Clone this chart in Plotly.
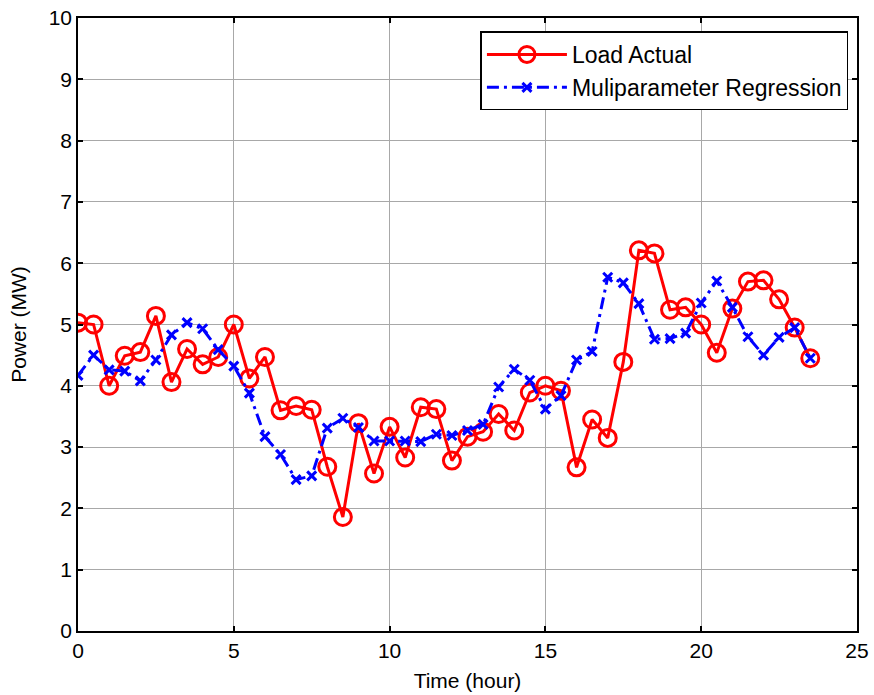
import plotly.graph_objects as go

time_hours = [i * 0.5 for i in range(48)]

load_actual = [5.03, 5.00, 4.00, 4.49, 4.55, 5.14, 4.06, 4.60, 4.35, 4.47,
               5.00, 4.12, 4.47, 3.60, 3.67, 3.61, 2.68, 1.86, 3.39, 2.57,
               3.33, 2.83, 3.65, 3.62, 2.78, 3.17, 3.25, 3.54, 3.27, 3.89,
               4.00, 3.92, 2.67, 3.45, 3.15, 4.39, 6.21, 6.16, 5.24, 5.28,
               5.00, 4.54, 5.26, 5.70, 5.72, 5.41, 4.95, 4.45]

regression = [4.17, 4.50, 4.26, 4.24, 4.08, 4.42, 4.83, 5.03, 4.93, 4.59,
              4.32, 3.88, 3.17, 2.88, 2.47, 2.53, 3.31, 3.47, 3.32, 3.10,
              3.10, 3.10, 3.09, 3.21, 3.19, 3.27, 3.37, 3.98, 4.27, 4.09,
              3.62, 3.84, 4.42, 4.56, 5.77, 5.68, 5.34, 4.76, 4.77, 4.86,
              5.35, 5.71, 5.28, 4.80, 4.50, 4.79, 4.95, 4.45]

x_ticks = [0, 5, 10, 15, 20, 25]
y_ticks = list(range(0, 11))

FONT = "Liberation Sans, Arial, sans-serif"

fig = go.Figure()
fig.add_trace(go.Scatter(
    x=time_hours, y=load_actual, name="Load Actual",
    mode="lines+markers",
    line=dict(color="#ff0000", width=3),
    marker=dict(symbol="circle-open", size=17, color="#ff0000",
                line=dict(color="#ff0000", width=3)),
))
fig.add_trace(go.Scatter(
    x=time_hours, y=regression, name="Muliparameter Regression",
    mode="lines+markers",
    line=dict(color="#0000ff", width=3, dash="12px,5px,3px,5px"),
    marker=dict(symbol="x-thin", size=9, color="#0000ff",
                line=dict(color="#0000ff", width=3)),
))

axis_common = dict(
    showline=True, linecolor="black", linewidth=1.5, mirror="ticks",
    ticks="inside", ticklen=5, tickwidth=1.5, tickcolor="black",
    showgrid=True, gridcolor="#a8a8a8", gridwidth=1,
    zeroline=False, automargin=False,
    tickfont=dict(family=FONT, size=21, color="black"),
)

fig.update_xaxes(range=[0, 25], tickvals=x_ticks,
                 title=dict(text="Time (hour)", font=dict(family=FONT, size=21, color="black"), standoff=12),
                 **axis_common)
fig.update_yaxes(range=[0, 10], tickvals=y_ticks,
                 title=dict(text="Power (MW)", font=dict(family=FONT, size=21, color="black"), standoff=16),
                 **axis_common)

fig.update_layout(
    width=874, height=695,
    margin=dict(l=78, r=17, t=18, b=64),
    paper_bgcolor="white", plot_bgcolor="white",
    font=dict(family=FONT, size=21, color="black"),
    legend=dict(
        x=0.989, y=0.978, xanchor="right", yanchor="top",
        bgcolor="white", bordercolor="black", borderwidth=1.5,
        font=dict(family=FONT, size=23, color="black"),
        itemwidth=80, tracegroupgap=0,
    ),
    showlegend=True,
)

fig.write_html("out.html")
